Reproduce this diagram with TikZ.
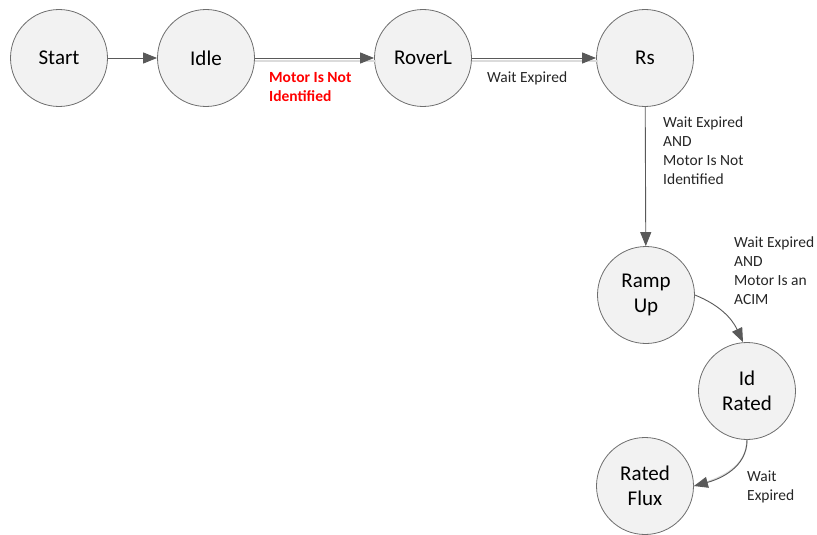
\documentclass[tikz,border=0pt]{standalone}
\usepackage{fontspec}
\setmainfont{Carlito}
\usetikzlibrary{arrows.meta}
\definecolor{edgecol}{HTML}{595959}
\definecolor{nodefill}{HTML}{F2F2F2}
\definecolor{nodeline}{HTML}{6E6E6E}
\definecolor{lblred}{HTML}{FF0000}
\begin{document}
\begin{tikzpicture}[x=1pt,y=-1pt,
  state/.style={circle,draw=nodeline,fill=nodefill,line width=0.8pt,minimum size=97pt,inner sep=0pt,align=center,font=\fontsize{21}{25}\selectfont},
  conn/.style={draw=edgecol,line width=0.9pt,-{Triangle[length=14pt,width=11pt]}},
  shade/.style={draw=black!14,line width=1.5pt},
  lbl/.style={font=\fontsize{15.5}{19}\selectfont,align=left,anchor=base west,inner sep=0pt,text=black!85}]
\useasboundingbox (0,0) rectangle (817,535);

\node[state] (start) at (59,58) {Start};
\node[state] (idle) at (206,58) {Idle};
\node[state] (roverl) at (423,58) {RoverL};
\node[state] (rs) at (645,58) {Rs};
\node[state] (ramp) at (646,295) {Ramp\\Up};
\node[state] (idr) at (747,391) {Id\\Rated};
\node[state] (rf) at (645,486) {Rated\\Flux};

% shadow lines
\draw[shade] ([yshift=-3pt]idle.east) -- ([yshift=-3pt,xshift=2pt]roverl.west);
\draw[shade] ([yshift=-3pt]roverl.east) -- ([yshift=-3pt,xshift=2pt]rs.west);
\draw[shade,xshift=3pt,yshift=-2pt] (idr.south) to[out=-90,in=15] (rf.east);

% connectors
\draw[conn] (start) -- (idle);
\draw[conn] (idle) -- (roverl);
\draw[conn] (roverl) -- (rs);
\draw[conn] (rs) -- (ramp);
\draw[conn] (ramp.east) to[out=-22,in=115] ([xshift=-4pt]idr.north);
\draw[conn] (idr.south) to[out=-90,in=15] (rf.east);

% labels (base anchor = baseline of last line)
\node[lbl,text=lblred,font=\fontsize{15.5}{19}\selectfont\bfseries] (l1) at (269,101.7) {Motor Is Not\\Identified};
\node[lbl] (l2) at (487,82) {Wait Expired};
\node[lbl] (l3) at (663,184.5) {Wait Expired\\AND\\Motor Is Not\\Identified};
\node[lbl] (l4) at (734,304) {Wait Expired\\AND\\Motor Is an\\ACIM};
\node[lbl] (l5) at (747,500.5) {Wait\\Expired};
\end{tikzpicture}
\end{document}
